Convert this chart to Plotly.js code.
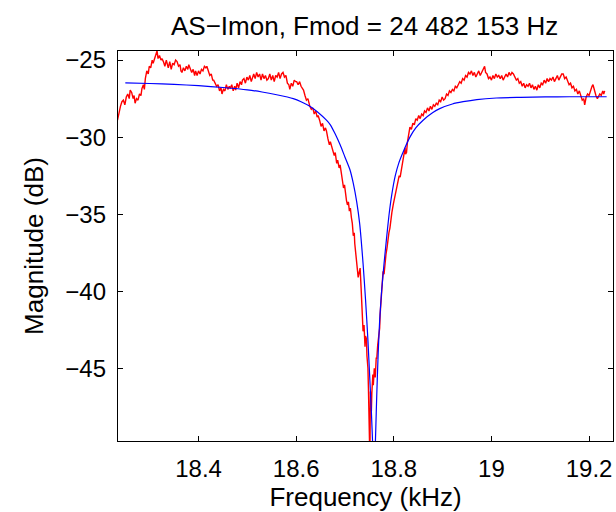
<!DOCTYPE html>
<html>
<head>
<meta charset="utf-8">
<script src="https://cdn.plot.ly/plotly-3.0.1.min.js"></script>
<style>html,body{margin:0;padding:0;background:#fff;}#chart{width:616px;height:512px;}</style>
</head>
<body>
<div id="chart"></div>
<script>
// Measured response (red)
const measFreq = [
18.234,18.237,18.240,18.243,18.246,18.249,18.252,18.255,18.258,18.260,18.263,18.266,18.268,18.270,18.273,18.276,18.279,18.282,18.284,18.287,
18.289,18.291,18.294,18.297,18.299,18.302,18.305,18.307,18.310,18.312,18.315,18.317,18.320,18.323,18.325,18.328,18.331,18.334,18.336,18.338,
18.341,18.344,18.347,18.350,18.353,18.356,18.359,18.362,18.364,18.366,18.369,18.372,18.375,18.378,18.380,18.383,18.386,18.389,18.392,18.394,
18.397,18.400,18.403,18.406,18.409,18.412,18.415,18.417,18.420,18.423,18.426,18.429,18.431,18.434,18.437,18.440,18.443,18.446,18.448,18.451,
18.454,18.457,18.460,18.463,18.465,18.468,18.471,18.474,18.476,18.479,18.482,18.485,18.488,18.490,18.493,18.496,18.499,18.502,18.505,18.508,
18.510,18.513,18.516,18.519,18.522,18.525,18.528,18.531,18.534,18.537,18.540,18.543,18.546,18.549,18.552,18.555,18.558,18.561,18.564,18.567,
18.570,18.573,18.576,18.579,18.582,18.585,18.587,18.590,18.593,18.596,18.599,18.601,18.604,18.607,18.610,18.613,18.615,18.618,18.621,18.624,
18.626,18.628,18.631,18.634,18.637,18.640,18.643,18.645,18.648,18.651,18.654,18.657,18.660,18.662,18.665,18.668,18.670,18.673,18.676,18.678,
18.680,18.683,18.685,18.688,18.690,18.693,18.695,18.697,18.699,18.701,18.703,18.705,18.707,18.709,18.711,18.713,18.715,18.717,18.719,18.720,
18.722,18.724,18.725,18.727,18.729,18.731,18.733,18.734,18.736,18.737,18.739,18.741,18.742,18.744,18.745,18.747,18.748,18.749,18.750,18.751,
18.752,18.754,18.755,18.757,18.758,18.760,18.762,18.764,18.765,18.767,18.769,18.771,18.772,18.774,18.776,18.778,18.780,18.782,18.784,18.786,
18.788,18.790,18.792,18.794,18.796,18.799,18.801,18.803,18.806,18.808,18.811,18.813,18.816,18.818,18.820,18.823,18.824,18.826,18.828,18.830,
18.833,18.836,18.839,18.842,18.845,18.848,18.851,18.854,18.857,18.860,18.863,18.866,18.869,18.872,18.875,18.878,18.881,18.884,18.887,18.890,
18.893,18.896,18.899,18.902,18.905,18.908,18.911,18.914,18.917,18.920,18.923,18.926,18.929,18.932,18.935,18.938,18.941,18.944,18.947,18.950,
18.953,18.956,18.959,18.962,18.965,18.968,18.971,18.974,18.977,18.980,18.983,18.986,18.988,18.991,18.994,18.997,19.000,19.003,19.006,19.009,
19.012,19.015,19.018,19.021,19.024,19.027,19.030,19.033,19.036,19.039,19.042,19.045,19.048,19.051,19.054,19.057,19.060,19.063,19.066,19.069,
19.072,19.075,19.078,19.081,19.084,19.087,19.090,19.093,19.096,19.099,19.102,19.105,19.108,19.111,19.114,19.117,19.120,19.123,19.126,19.129,
19.132,19.135,19.138,19.141,19.144,19.147,19.150,19.153,19.156,19.159,19.162,19.165,19.168,19.171,19.174,19.177,19.180,19.183,19.186,19.189,
19.191,19.194,19.197,19.200,19.203,19.206,19.208,19.211,19.214,19.217,19.219,19.222,19.225,19.228,19.230,19.232
];
const measMag = [
-28.9,-28.3,-28.0,-27.7,-27.6,-27.9,-27.4,-27.2,-27.5,-26.95,-27.1,-27.5,-27.3,-27.8,-27.5,-27.6,-27.2,-27.3,-26.85,-26.6,
-26.9,-26.2,-25.7,-25.9,-25.4,-25.5,-25.0,-25.2,-24.9,-24.8,-24.4,-24.9,-24.7,-25.0,-24.9,-25.1,-25.4,-25.0,-25.3,-25.5,
-25.1,-25.6,-25.2,-25.3,-25.0,-25.1,-25.4,-25.3,-25.7,-25.8,-25.5,-25.7,-25.4,-25.6,-25.3,-25.5,-25.8,-25.6,-26.0,-25.7,
-26.0,-25.7,-25.9,-25.6,-25.7,-25.4,-25.5,-25.4,-25.8,-26.0,-25.9,-26.3,-26.3,-26.5,-26.7,-26.6,-27.0,-26.8,-27.2,-26.9,
-27.0,-26.6,-26.9,-26.7,-26.85,-26.6,-27.0,-26.7,-26.95,-26.5,-26.8,-26.4,-26.6,-26.3,-26.2,-26.5,-26.1,-26.3,-26.0,-26.4,
-26.2,-25.9,-26.2,-25.8,-26.1,-25.9,-26.3,-25.9,-26.2,-26.0,-26.3,-26.2,-25.9,-26.3,-26.0,-26.4,-26.0,-26.1,-25.8,-26.2,
-25.9,-25.8,-26.1,-26.0,-26.5,-26.6,-26.9,-26.5,-26.7,-26.3,-26.4,-26.4,-26.6,-26.4,-26.7,-26.9,-26.95,-27.3,-27.6,-27.5,
-27.9,-28.0,-28.2,-28.1,-28.5,-28.3,-28.7,-28.6,-28.9,-29.3,-29.1,-29.6,-29.4,-29.6,-30.1,-30.5,-30.3,-30.7,-30.9,-31.2,
-31.0,-31.7,-31.5,-32.0,-31.8,-32.6,-32.9,-33.3,-33.1,-33.8,-34.1,-34.4,-34.2,-34.8,-34.6,-35.2,-35.6,-36.4,-36.2,-36.9,
-37.5,-38.0,-38.6,-39.1,-38.8,-38.5,-39.8,-40.9,-41.8,-42.6,-42.2,-43.6,-42.9,-43.1,-44.2,-45.0,-46.3,-47.5,-49.0,-51.0,
-46.5,-47.8,-46.6,-45.4,-46.1,-45.0,-45.6,-44.3,-44.4,-43.5,-43.0,-42.4,-41.5,-40.6,-39.9,-38.7,-38.9,-38.0,-37.6,-37.2,
-36.5,-36.2,-35.9,-35.3,-34.9,-34.35,-34.0,-33.7,-33.3,-32.9,-32.5,-32.6,-32.0,-31.6,-31.4,-30.7,-31.1,-31.0,-30.3,-29.9,
-29.35,-29.5,-29.1,-29.2,-28.8,-28.9,-28.6,-28.8,-28.5,-28.6,-28.3,-28.4,-28.1,-28.3,-28.0,-28.2,-27.9,-28.0,-27.8,-27.9,
-27.6,-27.7,-27.4,-27.6,-27.5,-27.2,-27.3,-27.0,-27.1,-26.9,-27.0,-26.7,-26.8,-26.6,-26.4,-26.5,-26.2,-26.3,-26.0,-26.1,
-25.8,-25.9,-25.7,-26.0,-25.8,-26.1,-25.9,-25.7,-26.0,-25.8,-25.6,-25.4,-25.8,-25.9,-26.2,-26.1,-26.3,-26.0,-26.2,-25.9,
-26.1,-26.0,-26.2,-26.0,-26.3,-26.1,-25.9,-26.1,-25.8,-26.0,-25.8,-25.9,-26.1,-26.3,-26.2,-26.5,-26.4,-26.7,-26.5,-26.8,
-26.6,-26.7,-26.5,-26.8,-26.6,-26.9,-26.7,-26.95,-26.6,-26.8,-26.5,-26.6,-26.3,-26.5,-26.2,-26.4,-26.2,-26.3,-26.1,-26.4,
-26.2,-26.0,-26.3,-26.1,-25.9,-25.9,-26.2,-26.1,-26.4,-26.6,-26.5,-26.8,-26.7,-27.0,-26.9,-27.2,-27.0,-27.3,-27.6,-27.5,
-27.9,-27.4,-27.2,-27.3,-26.9,-26.7,-26.6,-27.0,-27.3,-27.5,-27.4,-27.2,-27.3,-27.0,-27.2,-27.0
];
// Fitted notch (blue)
const fitFreq = [
18.250,18.300,18.350,18.400,18.450,18.500,18.530,18.560,18.594,18.610,18.628,18.645,18.662,18.670,18.680,18.690,18.700,18.710,18.717,18.724,
18.730,18.737,18.742,18.747,18.751,18.754,18.757,18.759,18.761,18.763,18.765,18.768,18.771,18.775,18.780,18.785,18.790,18.796,18.803,18.810,
18.820,18.833,18.845,18.860,18.880,18.894,18.920,18.942,18.970,19.010,19.060,19.110,19.160,19.200,19.236
];
const fitMag = [
-26.48,-26.52,-26.58,-26.66,-26.78,-26.93,-27.07,-27.25,-27.50,-27.70,-28.00,-28.40,-28.90,-29.20,-29.80,-30.50,-31.30,-32.10,-33.00,-34.20,
-35.60,-38.20,-40.50,-43.20,-45.80,-47.80,-50.20,-52.00,-51.00,-49.00,-46.80,-44.00,-41.90,-40.00,-38.20,-36.60,-35.10,-33.70,-32.50,-31.70,
-30.90,-30.00,-29.40,-28.90,-28.40,-28.15,-27.85,-27.70,-27.56,-27.46,-27.42,-27.39,-27.38,-27.38,-27.38
];
const titleText = "AS\u2212Imon, Fmod = 24 482 153 Hz";
const xLabel = "Frequency (kHz)";
const yLabel = "Magnitude (dB)";

const FONT = "Liberation Sans, Arial, Helvetica, sans-serif";
const traces = [
  {x: measFreq, y: measMag, type: "scatter", mode: "lines",
   line: {color: "#ff0000", width: 1.4}, hoverinfo: "skip"},
  {x: fitFreq, y: fitMag, type: "scatter", mode: "lines",
   line: {color: "#0000ff", width: 1.2, shape: "spline", smoothing: 0.6}, hoverinfo: "skip"}
];
const axisCommon = {
  showline: true, linecolor: "#000", linewidth: 1.2, mirror: "ticks",
  ticks: "inside", ticklen: 5, tickwidth: 1, tickcolor: "#000",
  showgrid: false, zeroline: false,
  tickfont: {family: FONT, size: 24, color: "#000"}
};
const layout = {
  width: 616, height: 512,
  margin: {l: 118, r: 3, t: 51, b: 71},
  paper_bgcolor: "#fff", plot_bgcolor: "#fff",
  showlegend: false,
  font: {family: FONT, color: "#000"},
  title: {text: titleText, font: {family: FONT, size: 26, color: "#000"},
          x: 0.592, xref: "container", xanchor: "center", y: 0.949, yref: "container", yanchor: "middle"},
  xaxis: Object.assign({}, axisCommon, {
    range: [18.235, 19.249], tick0: 18.4, dtick: 0.2, ticklabelstandoff: 6,
    title: {text: xLabel, font: {family: FONT, size: 26, color: "#000"}, standoff: 4}
  }),
  yaxis: Object.assign({}, axisCommon, {
    range: [-49.72, -24.41], tick0: -25, dtick: 5, ticklabelstandoff: 6,
    title: {text: yLabel, font: {family: FONT, size: 26, color: "#000"}, standoff: 14}
  })
};
Plotly.newPlot("chart", traces, layout, {staticPlot: true, displayModeBar: false});
</script>
</body>
</html>
